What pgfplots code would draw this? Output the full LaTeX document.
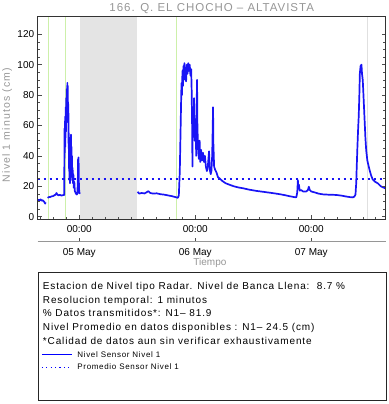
\documentclass[border=0pt]{standalone}
\usepackage{fontspec}
\setmainfont{Liberation Sans}
\newfontfamily\widetitle{Liberation Sans}[LetterSpace=8.5]
\newfontfamily\widebox{Liberation Sans}[LetterSpace=8.8]
\newfontfamily\wideylab{Liberation Sans}[LetterSpace=11]
\newfontfamily\widelegend{Liberation Sans}[LetterSpace=8.5]
\usepackage{pgfplots}
\pgfplotsset{compat=1.18}
\usetikzlibrary{calc}
\definecolor{tgray}{RGB}{150,150,150}
\definecolor{lgreen}{RGB}{205,240,170}
\definecolor{shade}{RGB}{228,228,228}
\definecolor{sblue}{RGB}{25,20,245}
\definecolor{lblue}{RGB}{0,0,255}
\begin{document}
\begin{tikzpicture}[x=1pt,y=1pt]
\begin{axis}[
  name=ax, at={(0,0)}, anchor=south west,
  scale only axis, width=348pt, height=203.3pt,
  xmin=-8.6, xmax=63.4, ymin=-1.7, ymax=132,
  axis on top, clip=false,
  unbounded coords=jump,
  axis line style={black!80, line width=0.6pt},
  tick style={black!70, line width=0.5pt},
  tick align=inside,
  major tick length=4pt, minor tick length=2.5pt,
  xtick pos=bottom, ytick pos=both,
  xtick={0,24,48}, xticklabels={00:00,00:00,00:00},
  minor xtick={-8,-5.333,-2.667,2.667,5.333,8,10.667,13.333,16,18.667,21.333,26.667,29.333,32,34.667,37.333,40,42.667,45.333,50.667,53.333,56,58.667,61.333},
  ytick={0,20,...,120}, minor y tick num=3,
  tick label style={font=\fontsize{10}{12}\selectfont},
  xticklabel style={yshift=-2.5pt},
  /pgf/number format/assume math mode=true,
  title={166. Q. EL CHOCHO – ALTAVISTA},
  title style={at={(axis description cs:0.5,1)}, anchor=center, yshift=1.3pt,
    font=\widetitle\fontsize{11.5}{13}\selectfont, text=tgray},
  ylabel={Nivel 1 minutos (cm)},
  ylabel style={at={(axis description cs:-0.088,0.464)}, anchor=center,
    font=\wideylab\fontsize{10.5}{12}\selectfont, text=tgray},
  xlabel={Tiempo},
  xlabel style={at={(axis description cs:0.495,-0.215)}, anchor=center,
    font=\fontsize{10}{12}\selectfont, text=tgray},
  legend style={at={(axis description cs:0.0095,-0.648)}, anchor=north west,
    draw=none, fill=none, inner sep=0pt, row sep=5.4pt, column sep=5pt,
    font=\widelegend\fontsize{8}{9}\selectfont,
    nodes={inner sep=0pt, text height=5.8pt, text depth=1.6pt}},
  legend cell align=left,
]
% shaded missing-data region
\addplot[fill=shade, draw=none, forget plot] coordinates {(0.1,-1.7) (12.0,-1.7) (12.0,132) (0.1,132)} -- cycle;
% vertical marker lines
\addplot[lgreen, line width=1pt, forget plot] coordinates {(-6.32,-1.7) (-6.32,132)};
\addplot[lgreen, line width=1pt, forget plot] coordinates {(-2.89,-1.7) (-2.89,132)};
\addplot[lgreen, line width=1pt, forget plot] coordinates {(20.12,-1.7) (20.12,132)};
\addplot[black!12, line width=0.6pt, forget plot] coordinates {(59.56,-1.7) (59.56,132)};
% level series
\addplot[sblue, line width=1.7pt, line join=round,
  legend image code/.code={\draw[lblue, line width=1.1pt] (0pt,0pt) -- (30pt,0pt);}]
coordinates {
(-8.6,10.6) (-8.4,11.2) (-8.2,10.8) (-8.0,11.4) (-7.8,10.5) (-7.6,10.9) (-7.4,10.2) (-7.2,9.6) (-7.05,8.6) (-7.0,9.5)
(-6.8,nan)
(-6.55,12.4) (-6.3,12.9) (-6.0,13.0) (-5.7,13.4) (-5.4,13.6) (-5.1,14.2) (-4.85,14.6) (-4.7,15.6) (-4.55,14.6) (-4.3,14.1) (-4.0,14.4) (-3.7,13.9) (-3.4,14.2) (-3.12,14.3)
(-3.08,36) (-3.04,58) (-3.0,42) (-2.96,63) (-2.92,46) (-2.88,66) (-2.84,52) (-2.80,72) (-2.75,56) (-2.70,78) (-2.64,62) (-2.58,84) (-2.52,70) (-2.46,88) (-2.42,76) (-2.38,86) (-2.32,64) (-2.26,74) (-2.20,45) (-2.15,55) (-2.10,30) (-2.06,48) (-2.01,24) (-1.96,44) (-1.91,22) (-1.86,40) (-1.81,26) (-1.76,42) (-1.71,54) (-1.66,34) (-1.61,46) (-1.56,28) (-1.50,40) (-1.44,24) (-1.38,32) (-1.30,22) (-1.22,28) (-1.12,19) (-1.02,23) (-0.92,17) (-0.80,16) (-0.65,15) (-0.50,14.6) (-0.38,15.5) (-0.30,24) (-0.24,38) (-0.19,26) (-0.14,39) (-0.09,24) (-0.04,18) (0.05,15.5) (0.12,15)
(0.5,nan)
(12.06,16.4) (12.4,15.2) (12.9,15.6) (13.5,15.3) (14.0,16.2) (14.3,16.8) (14.7,15.6) (15.3,15.2) (16.0,15.4) (16.8,14.8) (17.6,14.5) (18.4,14.0) (19.2,13.5) (19.9,12.9) (20.4,12.4) (20.6,14) (20.8,30) (20.95,55) (21.05,72) (21.15,88) (21.25,80) (21.35,96) (21.45,86) (21.55,99) (21.65,90) (21.75,101) (21.85,93) (21.95,98) (22.1,89) (22.25,100) (22.4,94) (22.55,101) (22.7,96) (22.85,100) (23.0,93) (23.15,97) (23.25,84) (23.35,60) (23.42,33) (23.5,72) (23.6,55) (23.75,78) (23.9,50) (24.05,64) (24.2,40) (24.3,75) (24.37,90) (24.45,58) (24.6,46) (24.75,38) (24.9,50) (25.05,36) (25.2,44) (25.4,37) (25.6,42) (25.8,36) (26.0,40) (26.2,33) (26.4,30) (26.6,33) (26.85,43) (27.0,31) (27.2,28) (27.34,30) (27.5,40) (27.62,60) (27.68,72) (27.75,48) (27.9,33) (28.1,31) (28.4,29) (28.7,26) (29.1,25) (29.6,23.5) (30.3,22) (31.1,21) (32.0,20) (33.0,19.2) (33.9,18.7) (35.0,17.9) (36.6,17.0) (38.0,16.4) (39.4,15.8) (40.5,15.3) (41.5,14.8) (42.5,14.2) (43.5,13.5) (44.3,13.0) (44.9,12.7) (45.1,16) (45.23,24) (45.33,19) (45.45,21) (45.6,17.2) (45.93,17.5) (46.3,16.6) (46.96,16.6) (47.3,17.5) (47.5,19.7) (47.7,17.5) (48.0,16.6) (48.7,16.0) (49.5,15.2) (50.4,14.7) (51.5,14.5) (52.5,14.4) (53.2,14.3) (54.2,13.9) (55.2,13.3) (56.0,12.9) (56.6,12.7) (56.9,13.2) (57.15,14.5) (57.3,22) (57.41,33) (57.55,46) (57.7,58) (57.82,66) (57.95,80) (58.05,94) (58.2,99) (58.39,100) (58.5,94) (58.65,90) (58.8,80) (59.0,66) (59.2,52) (59.36,44) (59.6,37) (60.04,31) (60.4,27) (60.72,24.5) (61.2,23) (61.75,22) (62.4,20) (63.4,18.5)
};
\addlegendentry{Nivel Sensor Nivel 1}
% mean level
\addplot[sblue, line width=2pt, line cap=butt, dash pattern=on 2pt off 4pt,
  legend image code/.code={\draw[lblue, line width=1.2pt, line cap=butt, dash pattern=on 1.2pt off 3.2pt] (0pt,0pt) -- (30pt,0pt);}]
coordinates {(-8.6,24.5) (63.4,24.5)};
\addlegendentry{Promedio Sensor Nivel 1}
% date axis below
\draw[tgray, line width=0.8pt] (axis description cs:0,-0.108) -- (axis description cs:1,-0.108);
\draw[black!70, line width=0.5pt] (axis description cs:0.11944,-0.108) -- (axis description cs:0.11944,-0.093);
\draw[black!70, line width=0.5pt] (axis description cs:0.45278,-0.108) -- (axis description cs:0.45278,-0.093);
\draw[black!70, line width=0.5pt] (axis description cs:0.78611,-0.108) -- (axis description cs:0.78611,-0.093);
\node[font=\fontsize{10}{12}\selectfont, anchor=center] at (axis description cs:0.11944,-0.164) {05 May};
\node[font=\fontsize{10}{12}\selectfont, anchor=center] at (axis description cs:0.45278,-0.164) {06 May};
\node[font=\fontsize{10}{12}\selectfont, anchor=center] at (axis description cs:0.78611,-0.164) {07 May};
\end{axis}
% information box
\draw[black!85, line width=0.7pt] (0.6,-52.7) rectangle (349,-181);
\begin{scope}[every node/.style={anchor=base west, inner sep=0pt, font=\widebox\fontsize{10}{12}\selectfont}]
\node at (5,-70.4) {Estacion de Nivel tipo Radar. Nivel de Banca Llena:\ \ 8.7 \%};
\node at (5,-84.0) {Resolucion temporal: 1 minutos};
\node at (5,-97.6) {\% Datos transmitidos*: N1– 81.9};
\node at (5,-111.2) {Nivel Promedio en datos disponibles : N1– 24.5 (cm)};
\node at (5,-124.8) {*Calidad de datos aun sin verificar exhaustivamente};
\end{scope}
\pgfresetboundingbox
\path[use as bounding box] (-37.7,-184.7) rectangle (350.3,219.3);
\end{tikzpicture}
\end{document}
